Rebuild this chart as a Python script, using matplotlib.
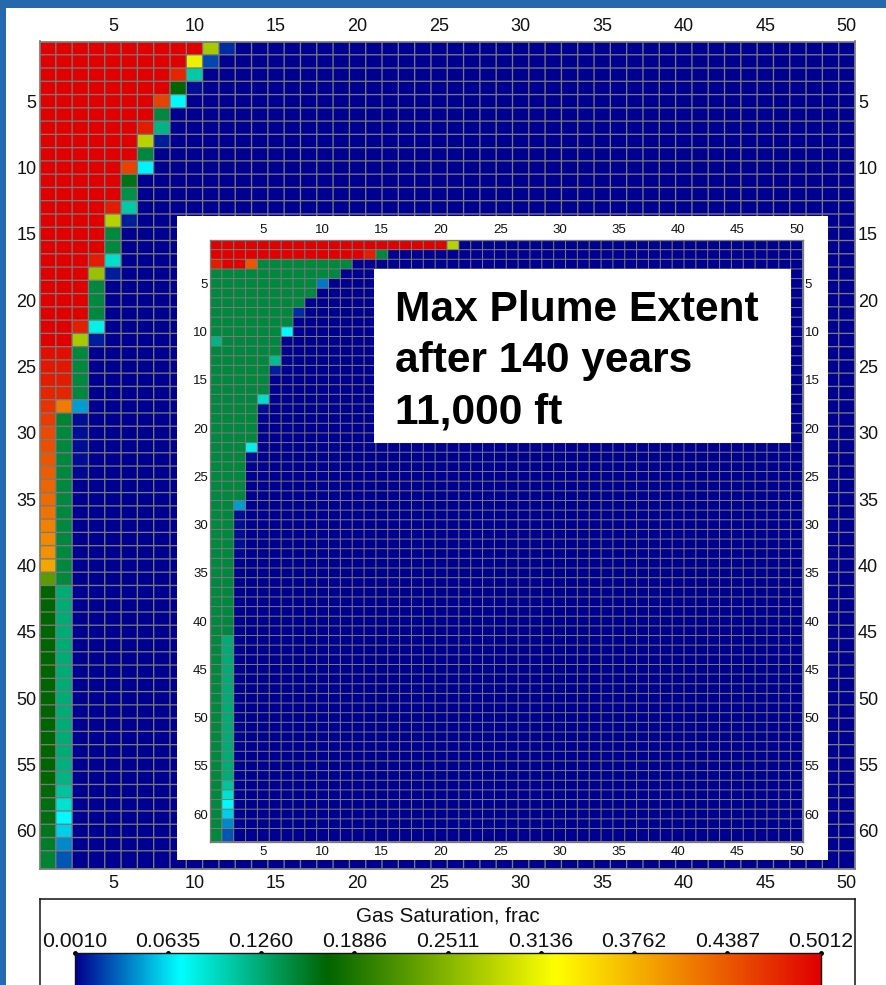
import numpy as np
import matplotlib
matplotlib.use('Agg')
import matplotlib.pyplot as plt
from matplotlib.colors import LinearSegmentedColormap
from matplotlib.patches import Rectangle

plt.rcParams['font.family'] = ['Liberation Sans', 'DejaVu Sans']

W, H = 886, 985

# gas saturation values
R = 0.50   # full red
G = 0.146  # mid green
D = 0.17   # dark green
T = 0.125  # teal green
BG = 0.001

big_rows = [
    [R]*10 + [0.27, 0.014],
    [R]*9 + [0.31, 0.022],
    [R]*8 + [0.475, 0.105],
    [R]*8 + [0.17, 0.006],
    [R]*7 + [0.455, 0.071],
    [R]*7 + [G],
    [R]*6 + [0.48, 0.12],
    [R]*6 + [0.28, 0.009],
    [R]*6 + [G],
    [R]*5 + [0.455, 0.068],
    [R]*5 + [0.162],
    [R]*5 + [0.143],
    [R]*4 + [0.48, 0.106],
    [R]*4 + [0.28, 0.01],
    [R]*4 + [G],
    [R]*4 + [G],
    [R]*3 + [0.48, 0.091],
    [R]*3 + [0.262, 0.009],
    [R]*3 + [G],
    [R]*3 + [G],
    [R]*3 + [G],
    [R]*2 + [0.478, 0.08],
    [R]*2 + [0.27, 0.009],
    [0.49, 0.49, G],
    [0.485, 0.485, G],
    [0.48, 0.48, G],
    [0.475, 0.475, G],
    [0.465, 0.415, 0.045],
    [0.46, 0.15, 0.006],
    [0.45, G, 0.005],
    [0.445, G, 0.005],
    [0.44, G, 0.005],
    [0.435, G, 0.004],
    [0.43, G, 0.002],
    [0.425, G],
    [0.42, G],
    [0.41, G],
    [0.405, G],
    [0.40, G],
    [0.385, G],
    [0.224, G],
    [D, T], [D, T], [D, T], [D, T], [D, T], [D, T], [D, T],
    [D, T], [D, T], [D, T], [D, T], [D, T], [D, T], [D, 0.122],
    [D, 0.12],
    [0.168, 0.11],
    [0.165, 0.09],
    [0.165, 0.071],
    [0.158, 0.058],
    [0.155, 0.04],
    [0.15, 0.025],
]

small_rows = [
    [R]*20 + [0.28],
    [R]*13 + [0.478, G],
    [0.48, R, R, 0.44] + [G]*8,
    [G]*11,
    [G]*9 + [0.036],
    [G]*9,
    [G]*8,
    [G]*7 + [0.014],
    [G]*7,
    [G]*6 + [0.071],
    [0.12] + [G]*5,
    [G]*6,
    [G]*5 + [0.113],
    [G]*5 + [0.01],
    [G]*5,
    [G]*5,
    [G]*4 + [0.091],
    [G]*4 + [0.006],
    [G]*4,
    [G]*4,
    [G]*4,
    [G]*3 + [0.08],
    [G]*3 + [0.006],
    [G]*3,
    [G]*3,
    [G]*3,
    [G]*3,
    [G, G, 0.045],
    [G, G, 0.006],
    [G, G, 0.005],
    [G, G, 0.005],
    [G, G, 0.005],
    [G, G, 0.004],
    [G, G], [G, G], [G, G], [G, G], [G, G], [G, G], [G, G], [G, G],
    [G, T], [G, T], [G, T], [G, T], [G, T], [G, T], [G, T], [G, T],
    [G, T], [G, T], [G, T], [G, T], [G, T], [G, T], [G, T],
    [G, 0.11],
    [G, 0.09],
    [G, 0.071],
    [G, 0.058],
    [G, 0.04],
    [G, 0.025],
]

x_ticks = [5, 10, 15, 20, 25, 30, 35, 40, 45, 50]
y_ticks = [5, 10, 15, 20, 25, 30, 35, 40, 45, 50, 55, 60]
bar_ticks = ['0.0010', '0.0635', '0.1260', '0.1886', '0.2511', '0.3136', '0.3762', '0.4387', '0.5012']
title_lines = ['Max Plume Extent', 'after 140 years', '11,000 ft']

cmap = LinearSegmentedColormap.from_list('gas', [
    (0.0, '#000090'), (0.14, '#00ffff'), (0.338, '#006400'),
    (0.645, '#ffff00'), (1.0, '#e00000')])
vmin, vmax = 0.001, 0.5012


def px_axes(x0, y0, x1, y1, **kw):
    return fig.add_axes([x0/W, 1-y1/H, (x1-x0)/W, (y1-y0)/H], **kw)


def draw_grid(rows, box, fs, lw, xgap, ygap):
    ax = px_axes(*box)
    m = np.full((len(rows), 50), BG)
    for i, r in enumerate(rows):
        m[i, :len(r)] = r
    xe = np.arange(51) + 0.5
    # the last row of the grid is drawn taller
    ye = np.append(np.arange(62) + 0.5, 62.85)
    ax.pcolormesh(xe, ye, m, cmap=cmap, vmin=vmin, vmax=vmax)
    # grid lines unsnapped so the spacing stays even
    ax.vlines(xe, ye[0], ye[-1], color='#7a7a7a', linewidth=lw, snap=False)
    ax.hlines(ye, xe[0], xe[-1], color='#7a7a7a', linewidth=lw, snap=False)
    ax.set_xlim(0.5, 50.5)
    ax.set_ylim(62.85, 0.5)
    for s in ax.spines.values():
        s.set_color('#7a7a7a')
        s.set_linewidth(lw*1.3)
    ax.set_xticks(x_ticks)
    ax.set_yticks(y_ticks)
    ax.tick_params(length=0, labelsize=fs, labelcolor='#111111',
                   top=True, bottom=True, left=True, right=True,
                   labeltop=True, labelbottom=True, labelleft=True, labelright=True)
    ax.tick_params(axis='x', pad=xgap)
    ax.tick_params(axis='y', pad=ygap)
    # same distance above and below the grid
    for tick in ax.xaxis.get_major_ticks():
        tick.label1.set_va('center')
        tick.label2.set_va('center')
    return ax


fig = plt.figure(figsize=(W/100, H/100), dpi=100, facecolor='#2468ae')

# white page, blue strip only on the left and top
page = Rectangle((6/W, 0), 1-6/W, 1-8/H, transform=fig.transFigure, facecolor='white', zorder=-5)
fig.add_artist(page)

draw_grid(big_rows, (39.5, 41.5, 855, 868.7), 13, 0.95, 11, 2.2)

# white panel behind inset
panel = px_axes(177, 216, 828, 860, facecolor='white', xticks=[], yticks=[])
for s in panel.spines.values():
    s.set_visible(False)

draw_grid(small_rows, (210, 240, 802.5, 841.5), 9.5, 0.72, 7.3, 1.5)

# label box
tb = px_axes(374, 269, 791, 443, facecolor='white', xticks=[], yticks=[])
for s in tb.spines.values():
    s.set_visible(False)
tb.set_xlim(374, 791)
tb.set_ylim(443, 269)
for line, y in zip(title_lines, [321, 372, 423]):
    tb.text(395, y, line, fontsize=30.6, fontweight='bold', color='black', va='baseline', ha='left')

# colour bar
cb_box = px_axes(39.5, 899, 855, 1020, facecolor='white', xticks=[], yticks=[])
for s in cb_box.spines.values():
    s.set_linewidth(1.1)
    s.set_color('#111111')
cb_box.set_xlim(39.5, 855)
cb_box.set_ylim(1020, 899)
cb_box.text(448, 916, 'Gas Saturation, frac', fontsize=14.9, ha='center', va='center', color='#111111')

cb = px_axes(74.5, 953, 820.5, 1020)
grad = np.linspace(vmin, vmax, 256).reshape(1, -1)
cb.imshow(grad, cmap=cmap, vmin=vmin, vmax=vmax, aspect='auto', extent=[vmin, vmax, 0, 1])
cb.set_yticks([])
cb.set_xticks([])
for s in cb.spines.values():
    s.set_linewidth(1.0)
    s.set_color('#111111')
for i, lab in enumerate(bar_ticks):
    xp = 74.5 + i*(820.5-74.5)/8
    cb_box.text(xp, 941, lab, fontsize=15.3, ha='center', va='center', color='#111111')
    cb_box.plot([xp], [953], 'o', ms=2.5, color='black', clip_on=False, zorder=5)
cb_box.set_xlim(39.5, 855)
cb_box.set_ylim(1020, 899)

fig.savefig('out.png', dpi=100, facecolor=fig.get_facecolor())
